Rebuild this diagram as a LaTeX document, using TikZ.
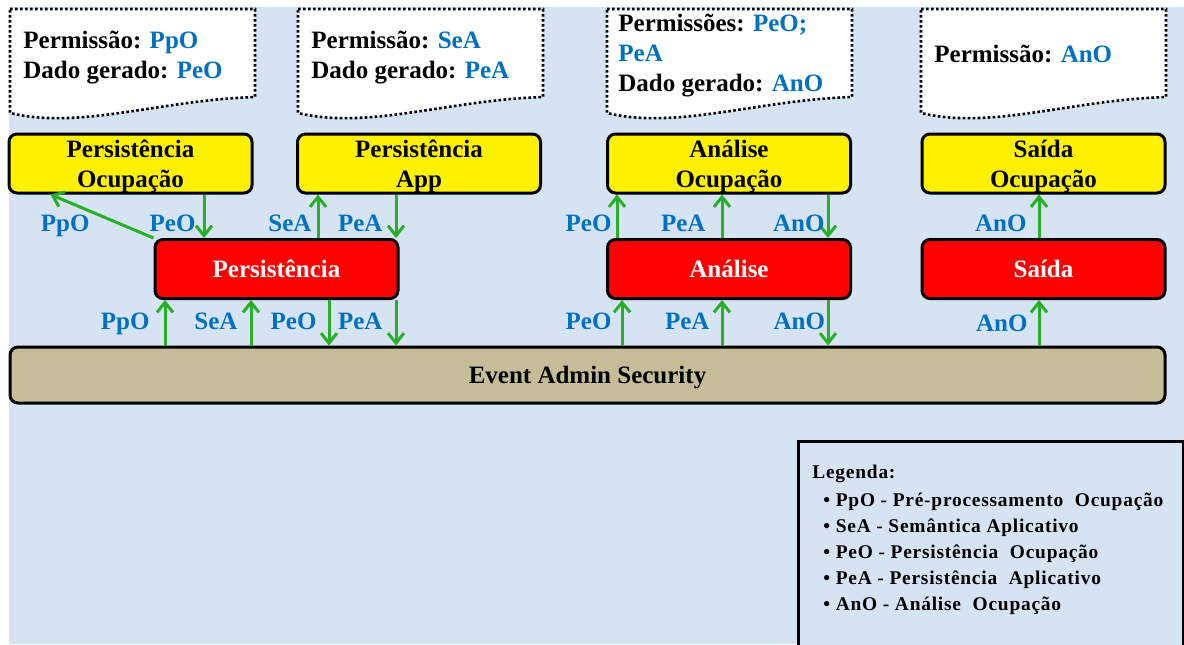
\documentclass[tikz,border=0pt]{standalone}
\usepackage{fontspec}
\setmainfont{Liberation Serif}
\newfontfamily\legendfont[LetterSpace=4]{Liberation Serif}
\usetikzlibrary{arrows.meta}

\definecolor{bgblue}{RGB}{214,227,243}
\definecolor{tagblue}{RGB}{0,112,192}
\definecolor{flowgreen}{RGB}{40,175,40}
\definecolor{bustan}{RGB}{196,189,151}

\newcommand{\cod}[1]{\textcolor{tagblue}{#1}}
\newcommand{\topline}{\rule{0pt}{11.5pt}}

\tikzset{
	box/.style={draw, line width=1.5pt, rounded corners=4pt, minimum width=121.5pt, minimum height=29.5pt, inner sep=0pt, align=center, font=\bfseries\fontsize{12.5}{15}\selectfont},
	app/.style={box, fill=yellow},
	comp/.style={box, fill=red, text=white, text height=8.3pt, text depth=0pt},
	bus/.style={box, fill=bustan, minimum width=577.5pt, minimum height=28pt, text height=8.3pt, text depth=0pt},
	notebox/.style={draw, fill=white, line width=1.3pt, dash pattern=on 1.3pt off 1.2pt},
	notetext/.style={anchor=north west, align=left, inner sep=0pt, font=\bfseries\fontsize{12.5}{15}\selectfont},
	flow/.style={draw=flowgreen, line width=1.5pt, ->},
	lbl/.style={text=tagblue, inner sep=0pt, text depth=0pt, font=\bfseries\fontsize{12.5}{15}\selectfont},
	>={Straight Barb[length=5pt,width=8pt]}
}

\begin{document}
\begin{tikzpicture}[x=0.5pt, y=-0.5pt]
	\useasboundingbox (0,0) rectangle (1184,644);
	\fill[white] (0,0) rectangle (1184,644);
	\fill[bgblue] (9,7) rectangle (1184,644);
	
	% Notes with permissions on top
	\foreach \x in {10,298,607,921}
		\draw[notebox] (\x,9) -- (\x+245,9) -- (\x+245,97) .. controls (\x+150,100) and (\x+70,130) .. (\x,113) -- cycle;
	\node[notetext] (n1) at (23,31) {Permissão: \cod{PpO}\\Dado gerado: \cod{PeO}};
	\node[notetext] (n2) at (311,31) {Permissão: \cod{SeA}\\Dado gerado: \cod{PeA}};
	\node[notetext] (n3) at (618,14) {Permissões: \cod{PeO;}\\\cod{PeA}\\Dado gerado: \cod{AnO}};
	\node[notetext] (n4) at (934,45) {Permissão: \cod{AnO}};
	
	% Draw nodes
	\node[app] (pOcup) at (130.5,163.5) {\topline Persistência\\Ocupação};
	\node[app] (pApp) at (419,163.5) {\topline Persistência\\App};
	\node[app] (aOcup) at (729,163.5) {\topline Análise\\Ocupação};
	\node[app] (sOcup) at (1043.5,163.5) {\topline Saída\\Ocupação};
	\node[comp] (pers) at (276.5,269) {Persistência};
	\node[comp] (anal) at (729,269) {Análise};
	\node[comp] (saida) at (1043.5,269) {Saída};
	\node[bus] (eas) at (587.5,375) {Event Admin Security};
	
	% Draw arrows, bundles to applications
	\begin{scope}[every node/.append style={yshift=-3.5pt}]
	\draw[flow] (pers.north west) -- node[lbl, left=5.5pt] {PpO} ([xshift=21.5pt]pOcup.south west);
	\draw[flow] ([xshift=36.75pt]pOcup.south) -- node[lbl, left=3.5pt] {PeO} ([xshift=36.75pt]pOcup.south |- pers.north);
	\draw[flow] ([xshift=20.75pt]pers.north) -- node[lbl, left=2.5pt] {SeA} ([xshift=20.75pt]pers.north |- pApp.south);
	\draw[flow] ([xshift=-11.5pt]pApp.south) -- node[lbl, left=6pt] {PeA} ([xshift=-11.5pt]pApp.south |- pers.north);
	\draw[flow] ([xshift=-56pt]anal.north) -- node[lbl, left=2pt] {PeO} ([xshift=-56pt]anal.north |- aOcup.south);
	\draw[flow] ([xshift=-3.5pt]anal.north) -- node[lbl, left=7.5pt] {PeA} ([xshift=-3.5pt]anal.north |- aOcup.south);
	\draw[flow] ([xshift=49.5pt]aOcup.south) -- node[lbl, left=1pt] {AnO} ([xshift=49.5pt]aOcup.south |- anal.north);
	\draw[flow] ([xshift=-2.25pt]saida.north) -- node[lbl, left=5.5pt] {AnO} ([xshift=-2.25pt]saida.north |- sOcup.south);
	\end{scope}
	
	% Draw arrows, event admin to bundles
	\begin{scope}[every node/.append style={yshift=1pt}]
	\draw[flow] ([xshift=-55.75pt]pers.south |- eas.north) -- node[lbl, left=7pt] {PpO} ([xshift=-55.75pt]pers.south);
	\draw[flow] ([xshift=-12.75pt]pers.south |- eas.north) -- node[lbl, left=6pt] {SeA} ([xshift=-12.75pt]pers.south);
	\draw[flow] ([xshift=26.25pt]pers.south) -- node[lbl, left=5.5pt] {PeO} ([xshift=26.25pt]pers.south |- eas.north);
	\draw[flow] ([xshift=59.75pt]pers.south) -- node[lbl, left=6pt] {PeA} ([xshift=59.75pt]pers.south |- eas.north);
	\draw[flow] ([xshift=-53.5pt]anal.south |- eas.north) -- node[lbl, left=4.5pt] {PeO} ([xshift=-53.5pt]anal.south);
	\draw[flow] ([xshift=-3.5pt]anal.south |- eas.north) -- node[lbl, left=5.5pt] {PeA} ([xshift=-3.5pt]anal.south);
	\draw[flow] ([xshift=49.5pt]anal.south) -- node[lbl, left=0.75pt] {AnO} ([xshift=49.5pt]anal.south |- eas.north);
	\draw[flow] ([xshift=-2.25pt]saida.south |- eas.north) -- node[lbl, left=5pt, yshift=-1pt] {AnO} ([xshift=-2.25pt]saida.south);
	\end{scope}
	
	% Legend
	\draw[line width=1.5pt, fill=bgblue] (798,441) rectangle (1183,660);
	\node[anchor=north west, align=left, inner sep=0pt, font=\legendfont\bfseries\fontsize{9.7}{13}\selectfont] (legend) at (812,465) {Legenda:\\[1pt]
		\hspace*{5.5pt}\textbullet{} PpO - Pré-processamento\hspace{3pt} Ocupação\\
		\hspace*{5.5pt}\textbullet{} SeA - Semântica Aplicativo\\
		\hspace*{5.5pt}\textbullet{} PeO - Persistência\hspace{3pt} Ocupação\\
		\hspace*{5.5pt}\textbullet{} PeA - Persistência\hspace{3pt} Aplicativo\\
		\hspace*{5.5pt}\textbullet{} AnO - Análise\hspace{3pt} Ocupação};
	
\end{tikzpicture}
\end{document}
